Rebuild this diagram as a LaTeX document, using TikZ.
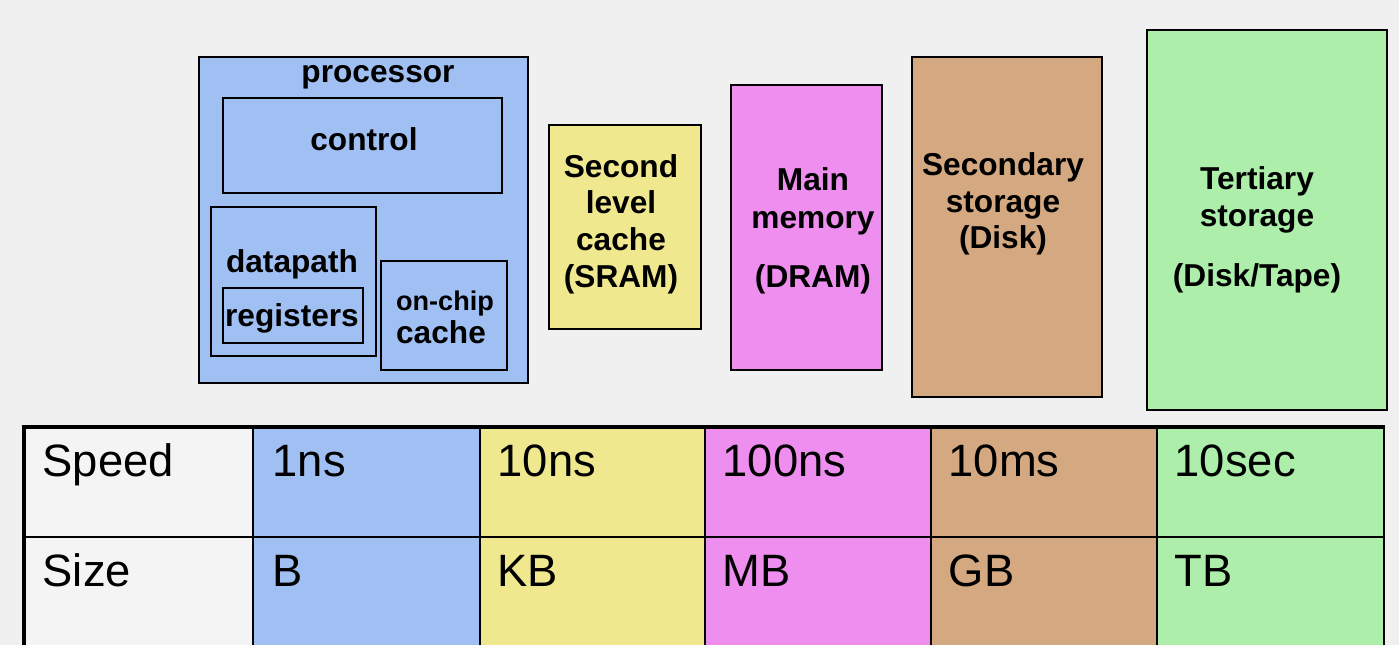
\documentclass[tikz,border=0pt]{standalone}
\usepackage{fontspec}
\setmainfont{Liberation Sans}
\definecolor{bg}{RGB}{240,240,240}
\definecolor{cblue}{RGB}{160,192,244}
\definecolor{cyellow}{RGB}{240,232,142}
\definecolor{cmag}{RGB}{238,142,238}
\definecolor{cbrown}{RGB}{212,168,128}
\definecolor{cgreen}{RGB}{172,238,170}
\definecolor{cwhite}{RGB}{244,244,244}
\tikzset{
  box/.style={draw=black, line width=0.6pt, anchor=north west, inner sep=0pt},
  lbl/.style={font=\fontsize{9}{10.5}\selectfont\bfseries, anchor=base, inner sep=0pt},
  small/.style={font=\fontsize{7.7}{9}\selectfont\bfseries, anchor=base, inner sep=0pt},
  cell/.style={draw=black, line width=0.6pt, anchor=north west, inner sep=0pt},
  ctext/.style={font=\fontsize{12.9}{15}\selectfont, anchor=base west, inner sep=0pt}
}
\begin{document}
\begin{tikzpicture}[x=0.01cm,y=-0.01cm]
\useasboundingbox (0,0) rectangle (1399,645);
\fill[bg] (0,0) rectangle (1399,645);
% processor
\node[box, fill=cblue, minimum width=3.29cm, minimum height=3.26cm] (proc) at (198,56) {};
\node[lbl] (proct) at (378,82) {processor};
\node[box, minimum width=2.79cm, minimum height=0.95cm] (ctrl) at (222,97) {};
\node[lbl] (ctrlt) at (364,150) {control};
\node[box, minimum width=1.65cm, minimum height=1.49cm] (dp) at (210,206) {};
\node[lbl] (dpt) at (292,272) {datapath};
\node[box, minimum width=1.40cm, minimum height=0.55cm] (reg) at (222,287) {};
\node[lbl] (regt) at (292,326) {registers};
\node[box, minimum width=1.26cm, minimum height=1.09cm] (occ) at (380,260) {};
\node[small] (occt1) at (445,310) {on-chip};
\node[lbl] (occt2) at (441,343) {cache};
% second level cache
\node[box, fill=cyellow, minimum width=1.52cm, minimum height=2.04cm] (l2) at (548,124) {};
\node[lbl] (l2a) at (621,177) {Second};
\node[lbl] (l2b) at (621,213) {level};
\node[lbl] (l2c) at (621,250) {cache};
\node[lbl] (l2d) at (621,287) {(SRAM)};
% main memory
\node[box, fill=cmag, minimum width=1.51cm, minimum height=2.85cm] (mm) at (730,84) {};
\node[lbl] (mma) at (813,190) {Main};
\node[lbl] (mmb) at (813,228) {memory};
\node[lbl] (mmc) at (813,287) {(DRAM)};
% secondary
\node[box, fill=cbrown, minimum width=1.90cm, minimum height=3.40cm] (sec) at (911,56) {};
\node[lbl] (seca) at (1003,175) {Secondary};
\node[lbl] (secb) at (1003,212) {storage};
\node[lbl] (secc) at (1003,248) {(Disk)};
% tertiary
\node[box, fill=cgreen, minimum width=2.40cm, minimum height=3.80cm] (ter) at (1146,29) {};
\node[lbl] (tera) at (1257,189) {Tertiary};
\node[lbl] (terb) at (1257,226) {storage};
\node[lbl] (terc) at (1257,286) {(Disk/Tape)};
% table
\foreach \n/\x/\w/\c in {a/24/2.28/cwhite, b/252/2.27/cblue, c/479/2.25/cyellow, d/704/2.26/cmag, e/930/2.26/cbrown, f/1156/2.27/cgreen}{
  \node[cell, fill=\c, minimum width=\w cm, minimum height=1.09cm] (s\n) at (\x,427) {};
  \node[cell, fill=\c, minimum width=\w cm, minimum height=1.20cm] (z\n) at (\x,536) {};
}
\draw[line width=1.4pt] (za.south west) -- (sa.north west) -- (sf.north east);
\node[ctext] (t1) at (42,476) {Speed};
\node[ctext] (t2) at (272,476) {1ns};
\node[ctext] (t3) at (497,476) {10ns};
\node[ctext] (t4) at (722,476) {100ns};
\node[ctext] (t5) at (948,476) {10ms};
\node[ctext] (t6) at (1174,476) {10sec};
\node[ctext] (u1) at (42,586) {Size};
\node[ctext] (u2) at (272,586) {B};
\node[ctext] (u3) at (497,586) {KB};
\node[ctext] (u4) at (722,586) {MB};
\node[ctext] (u5) at (948,586) {GB};
\node[ctext] (u6) at (1174,586) {TB};
\end{tikzpicture}
\end{document}
